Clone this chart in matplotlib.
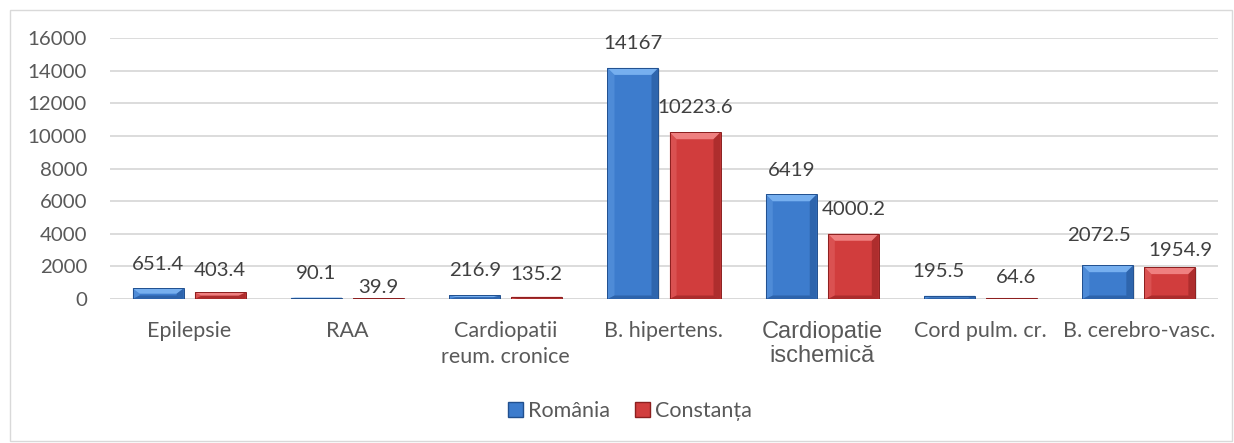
import numpy as np
import matplotlib
matplotlib.use("Agg")
import matplotlib.pyplot as plt
from matplotlib.patches import Polygon, Rectangle

plt.rcParams['font.family'] = ['Lato', 'DejaVu Sans']

# data
categories = ["Epilepsie", "RAA", "Cardiopatii\nreum. cronice", "B. hipertens.",
              "Cardiopatie\nischemică", "Cord pulm. cr.", "B. cerebro-vasc."]
romania = [651.4, 90.1, 216.9, 14167, 6419, 195.5, 2072.5]
constanta = [403.4, 39.9, 135.2, 10223.6, 4000.2, 64.6, 1954.9]
series_names = ["România", "Constanța"]

# label nudges in pixels (dx, dy above the bar top), as placed in the original
nudge_ro = [(0, 24), (0, 24), (0, 25), (0, 24), (0, 24), (-11, 24), (-9, 30)]
nudge_ct = [(0, 22), (0, 11), (0, 22), (0, 25), (0, 24), (4, 20), (11, 17)]

# colours: main, light (top/left), dark (right/bottom)
blue = ("#3d7ccd", "#76afef", "#21508f")
red = ("#d13d3d", "#ef8080", "#8c1f1f")

W, H = 1234, 443
fig = plt.figure(figsize=(W / 100, H / 100), dpi=100)
ax = fig.add_axes([110 / W, 144 / H, 1108 / W, 261 / H])

x = np.arange(len(categories))
bw = 0.322
gap = 0.07
ymax = 16000
# bevel size in data units (~7 px)
bx = 7 * (len(categories) / 1108)
by = 7 * (ymax / 261)
px2pt = 72 / 100


def bevel_bar(ax, x0, h, cols):
    main, light, dark = cols
    x1 = x0 + bw
    b_y = min(by, h / 2)
    b_x = min(bx, bw / 2)
    by_bot = min(by * 0.5, h / 2)
    # soft shadow
    ax.add_patch(Rectangle((x0 + 0.008, -70), bw, h, facecolor="#b0b0b0",
                           edgecolor="none", alpha=0.35, zorder=2))
    ax.add_patch(Rectangle((x0, 0), bw, h, facecolor=main, edgecolor="none", zorder=3))
    # top facet
    ax.add_patch(Polygon([(x0, h), (x1, h), (x1 - b_x, h - b_y), (x0 + b_x, h - b_y)],
                         closed=True, facecolor=light, edgecolor="none", zorder=4))
    # left facet
    ax.add_patch(Polygon([(x0, 0), (x0, h), (x0 + b_x, h - b_y), (x0 + b_x, by_bot)],
                         closed=True, facecolor=light, edgecolor="none", alpha=0.3, zorder=4))
    # right facet
    ax.add_patch(Polygon([(x1, 0), (x1, h), (x1 - b_x, h - b_y), (x1 - b_x, by_bot)],
                         closed=True, facecolor=dark, edgecolor="none", alpha=0.5, zorder=4))
    # bottom facet
    ax.add_patch(Polygon([(x0, 0), (x1, 0), (x1 - b_x, by_bot), (x0 + b_x, by_bot)],
                         closed=True, facecolor=dark, edgecolor="none", alpha=0.55, zorder=4))
    ax.add_patch(Rectangle((x0, 0), bw, h, facecolor="none", edgecolor=dark,
                           linewidth=0.7, zorder=5))


for i in range(len(categories)):
    left_b = x[i] - gap / 2 - bw
    left_r = x[i] + gap / 2
    bevel_bar(ax, left_b, romania[i], blue)
    bevel_bar(ax, left_r, constanta[i], red)
    dx, dy = nudge_ro[i]
    ax.annotate(f"{romania[i]:g}", (left_b + bw / 2, romania[i]),
                xytext=(dx * px2pt, dy * px2pt),
                textcoords="offset points", ha="center", va="center",
                fontsize=14.7, color="#404040")
    dx, dy = nudge_ct[i]
    ax.annotate(f"{constanta[i]:g}", (left_r + bw / 2, constanta[i]),
                xytext=(dx * px2pt, dy * px2pt),
                textcoords="offset points", ha="center", va="center",
                fontsize=14.7, color="#404040")

ax.set_xlim(-0.5, len(categories) - 0.5)
ax.set_ylim(0, ymax)
ax.set_yticks(np.arange(0, 16001, 2000))
ax.yaxis.grid(True, color="#d9d9d9", linewidth=1.3, zorder=0)
ax.set_axisbelow(True)
for s in ax.spines.values():
    s.set_visible(False)
ax.axhline(0, color="#d9d9d9", linewidth=1.3, zorder=1)
ax.tick_params(axis="both", length=0, colors="#595959")
ax.tick_params(axis="y", pad=16.5, labelsize=14.7)
ax.set_xticks(x)
ax.set_xticklabels(categories, linespacing=1.35, fontsize=15.5)
ax.tick_params(axis="x", pad=16)
for t in ax.get_xticklabels():
    if "ischemic" in t.get_text():
        t.set_fontfamily(["Liberation Sans", "DejaVu Sans"])
        t.set_fontsize(17)
        t.set_linespacing(1.1)

# legend
handles = [Rectangle((0, 0), 1, 1, facecolor=blue[0], edgecolor=blue[2]),
           Rectangle((0, 0), 1, 1, facecolor=red[0], edgecolor=red[2])]
fig.legend(handles, series_names, loc="center", bbox_to_anchor=(630 / W, 1 - 411 / H),
           ncol=2, frameon=False, fontsize=15.5, handlelength=0.7, handleheight=0.7,
           handletextpad=0.25, columnspacing=1.15, labelcolor="#595959")

# chart border
fig.patches.append(Rectangle((10 / W, 2 / H), 1222 / W, 431 / H, transform=fig.transFigure,
                             facecolor="none", edgecolor="#d9d9d9", linewidth=1))

fig.savefig("out.png", dpi=100)
